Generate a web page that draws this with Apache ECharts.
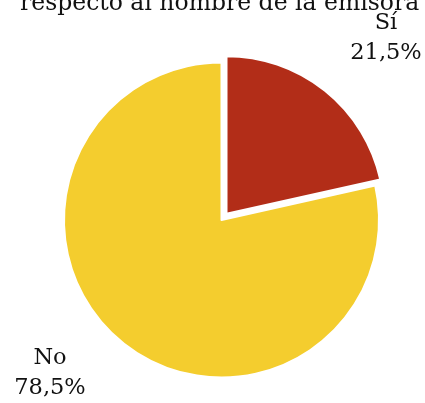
<!DOCTYPE html>
<html>
<head>
<meta charset="utf-8">
<script src="https://cdn.jsdelivr.net/npm/echarts@6/dist/echarts.min.js"></script>
<style>
  html, body { margin: 0; padding: 0; background: #fff; }
  #chart { width: 425px; height: 403px; }
</style>
</head>
<body>
<div id="chart"></div>
<script>
// datos del gráfico
var categorias = ['Sí', 'No'];
var porcentajes = [21.5, 78.5];
var colores = ['#B22D18', '#F4CD2E'];

var myChart = echarts.init(document.getElementById('chart'));

// posición de las etiquetas (centro del texto, antes del desplazamiento de selección)
var posEtiquetas = [[381, 44], [50, 373]];

var option = {
    animation: false,
    title: {
        text: 'respecto al nombre de la emisora',
        left: 15,
        top: -13,
        textStyle: {
            fontFamily: 'DejaVu Serif',
            fontSize: 23.5,
            fontWeight: 'normal',
            color: '#111'
        }
    },
    series: [{
        type: 'pie',
        center: [221.5, 220],
        radius: 157.5,
        startAngle: 90,
        clockwise: true,
        avoidLabelOverlap: false,
        selectedMode: 'single',
        selectedOffset: 8,
        itemStyle: {
            borderColor: '#fff',
            borderWidth: 2
        },
        label: {
            show: true,
            position: 'outside',
            overflow: 'none',
            color: '#111',
            formatter: function (p) {
                return '{t|' + p.name + '}\n{t|' + p.value.toFixed(1).replace('.', ',') + '%}';
            },
            rich: {
                t: {
                    fontFamily: 'DejaVu Serif',
                    fontSize: 22.5,
                    lineHeight: 30,
                    color: '#111',
                    width: 90,
                    align: 'center'
                }
            }
        },
        labelLine: { show: false },
        labelLayout: function (params) {
            var pos = posEtiquetas[params.dataIndex];
            var r = params.labelRect;
            // desplazamiento relativo a la posición calculada por ECharts
            return {
                dx: pos[0] - (r.x + r.width / 2),
                dy: pos[1] - (r.y + r.height / 2)
            };
        },
        data: categorias.map(function (c, i) {
            return {
                name: c,
                value: porcentajes[i],
                selected: i === 0,
                itemStyle: { color: colores[i] }
            };
        })
    }]
};

myChart.setOption(option);
</script>
</body>
</html>
